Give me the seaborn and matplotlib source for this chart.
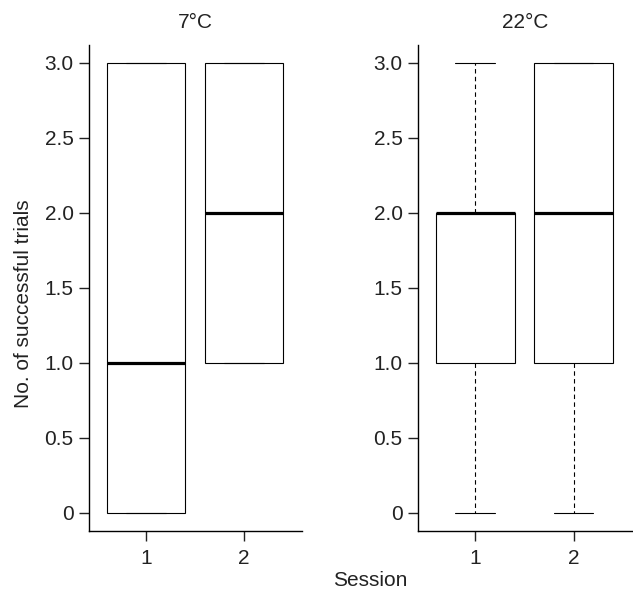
import matplotlib
matplotlib.use("Agg")
import matplotlib.pyplot as plt
import seaborn as sns
import pandas as pd
from matplotlib.ticker import FuncFormatter

# Trials per animal (estimated so that quartiles match the reference)
temps = ["7°C", "22°C"]
sessions = ["1", "2"]
trials_7_s1 = [0, 0, 0, 1, 3, 3, 3]
trials_7_s2 = [1, 1, 1, 2, 3, 3, 3]
trials_22_s1 = [0, 1, 1, 2, 2, 2, 2, 3]
trials_22_s2 = [0, 1, 1, 2, 2, 3, 3, 3]
y_ticks = [0, 0.5, 1.0, 1.5, 2.0, 2.5, 3.0]

rows = []
for t, s, vals in [("7°C", "1", trials_7_s1), ("7°C", "2", trials_7_s2),
                   ("22°C", "1", trials_22_s1), ("22°C", "2", trials_22_s2)]:
    for v in vals:
        rows.append({"temp": t, "session": s, "trials": v})
df = pd.DataFrame(rows)

sns.set_style("ticks")
plt.rcParams["font.family"] = ["Liberation Sans", "DejaVu Sans"]
FS = 15

fig = plt.figure(figsize=(6.33, 5.95), dpi=100)
axes = [fig.add_axes([0.1406, 0.1076, 0.3365, 0.8168]),
        fig.add_axes([0.6603, 0.1076, 0.3380, 0.8168])]

for ax, t in zip(axes, temps):
    sub = df[df["temp"] == t]
    sns.boxplot(data=sub, x="session", y="trials", order=sessions, ax=ax,
                color="white", width=0.8, whis=1.5, linecolor="black", linewidth=0.8,
                boxprops=dict(facecolor="white", edgecolor="black", linewidth=0.8),
                medianprops=dict(color="black", linewidth=2.3),
                whiskerprops=dict(color="black", linewidth=0.8, linestyle=(0, (4, 3))),
                capprops=dict(color="black", linewidth=0.8),
                showfliers=False)
    ax.set_xlim(-0.58, 1.59)
    ax.set_ylim(-0.12, 3.12)
    ax.set_yticks(y_ticks)
    ax.yaxis.set_major_formatter(FuncFormatter(lambda v, p: "0" if v == 0 else f"{v:.1f}"))
    ax.set_title(t, fontsize=FS, pad=12, color="#222222")
    ax.set_xlabel("")
    ax.set_ylabel("")
    for side in ["top", "right"]:
        ax.spines[side].set_visible(False)
    for side in ["left", "bottom"]:
        ax.spines[side].set_linewidth(1.0)
        ax.spines[side].set_color("black")
    ax.tick_params(axis="both", length=7, width=1.0, pad=4, labelsize=FS, colors="#222222")
    ax.tick_params(axis="x", pad=6)

fig.text(0.037, 0.49, "No. of successful trials", rotation=90, ha="center", va="center", fontsize=FS, color="#222222")
fig.text(0.585, 0.025, "Session", ha="center", va="center", fontsize=FS, color="#222222")

fig.savefig("out.png", dpi=100, facecolor="white")
